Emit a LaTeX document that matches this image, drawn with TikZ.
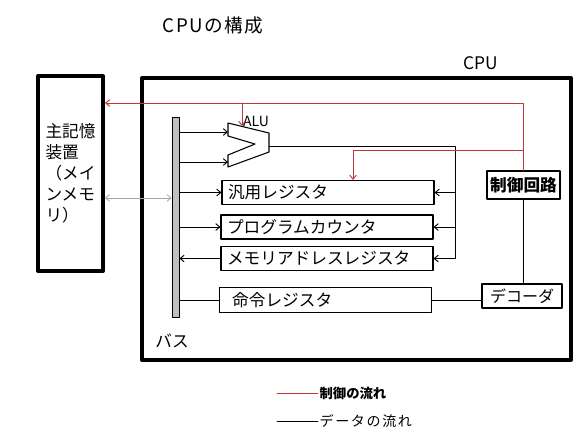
\documentclass[tikz,border=0pt]{standalone}
\usepackage{fontspec}
\setmainfont{Noto Sans CJK JP}
\usetikzlibrary{arrows.meta}
\definecolor{ctrlred}{RGB}{190,55,60}
\definecolor{busgray}{RGB}{192,192,192}

\begin{document}
\begin{tikzpicture}[line cap=round,line join=round,x=0.75pt,y=-0.75pt,
  >={Straight Barb[length=3pt,width=5pt]},
  reg/.style={draw,line width=0.8pt,minimum height=17pt,text width=150pt,inner xsep=4.5pt,align=left,font=\fontsize{12.5}{15}\selectfont},
  ctl/.style={draw=ctrlred,line width=0.7pt},
  dat/.style={line width=0.7pt}]
\useasboundingbox (0,0) rectangle (577,433);
\node[font=\fontsize{14}{16}\selectfont\addfontfeature{LetterSpace=8}] (title) at (213,25) {CPUの構成};
% CPU frame
\draw[line width=3pt] (142,78) rectangle (571,360);
\node[font=\fontsize{13}{15}\selectfont] (cpulbl) at (481,63) {CPU};
\node[draw,line width=3pt,minimum width=48.75pt,minimum height=146pt,inner sep=0pt,align=left,font=\fontsize{12.5}{15.75}\selectfont] (mem) at (70.5,173.5) {主記憶\\装置\\（メイ\\ンメモ\\リ）};
% bus
\node[draw,fill=busgray,line width=0.6pt,minimum width=5.25pt,minimum height=150pt,inner sep=0pt] (bus) at (175.5,217) {};
\node[font=\fontsize{12.5}{14}\selectfont] (buslbl) at (172,341) {バス};
% registers
\node[reg] (gpr) at (328,192.5) {汎用レジスタ};
\node[reg] (pc) at (327,227) {プログラムカウンタ};
\node[reg] (mar) at (327,258.5) {メモリアドレスレジスタ};
\node[reg] (ir) at (325.5,300) {\hspace{5pt}命令レジスタ};
% ALU
\draw[line width=0.8pt] (228,123) -- (269,133) -- (269,152) -- (228,167) -- (228,155) -- (255,144) -- (228,136) -- cycle;
\node[font=\fontsize{10.5}{12}\selectfont,inner sep=0pt] (alulbl) at (256,121) {ALU};
\coordinate (alua) at (228,132);
\coordinate (alub) at (228,162);
\coordinate (aluout) at (269,146);
\coordinate (fork) at (455,146);
\node[draw,line width=0.8pt,minimum width=54.75pt,minimum height=21pt,inner sep=1pt,font=\bfseries\fontsize{12.5}{15}\selectfont] (ctrl) at (523.5,185) {制御回路};
\node[draw,line width=0.8pt,minimum width=60pt,minimum height=18pt,inner sep=1pt,font=\fontsize{12}{14}\selectfont] (dec) at (522,296) {デコーダ};
% data
\draw[->,dat] (bus.east |- alua) -- (alua);
\draw[->,dat] (bus.east |- alub) -- (alub);
\draw[->,dat] (bus.east |- gpr.west) -- (gpr.west);
\draw[->,dat] (bus.east |- pc.west) -- (pc.west);
\draw[->,dat] (mar.west) -- (bus.east |- mar.west);
\draw[dat] (bus.east |- ir.west) -- (ir.west);
\draw[dat] (aluout) -- (fork) -- (fork |- mar.east);
\draw[->,dat] (fork |- gpr.east) -- (gpr.east);
\draw[->,dat] (fork |- pc.east) -- (pc.east);
\draw[->,dat] (fork |- mar.east) -- (mar.east);
\draw[dat] (ir.east) -- (ir.east -| dec.west);
\draw[dat] (ctrl.south) -- (ctrl.south |- dec.north);
\draw[<->,draw=gray!70,line width=0.6pt] (mem.east |- 0,198) -- (bus.west |- 0,198);
% control
\draw[ctl,->] (ctrl.north) -- (ctrl.north |- 0,103) -- (mem.east |- 0,103);
\draw[ctl,->] (242,103) -- (242,126);
\draw[ctl,->] (ctrl.north |- 0,150) -- (353,150) -- (gpr.north -| 353,0);
% legend
\node[anchor=west,inner xsep=1pt,font=\bfseries\fontsize{10}{12}\selectfont] (lgctl) at (318,393) {制御の流れ};
\node[anchor=west,inner xsep=1pt,font=\fontsize{10.5}{12}\selectfont\addfontfeature{LetterSpace=12}] (lgdat) at (318,421) {データの流れ};
\draw[ctl] (277,393) -- (lgctl.west);
\draw[dat] (277,421) -- (lgdat.west);
\end{tikzpicture}
\end{document}
